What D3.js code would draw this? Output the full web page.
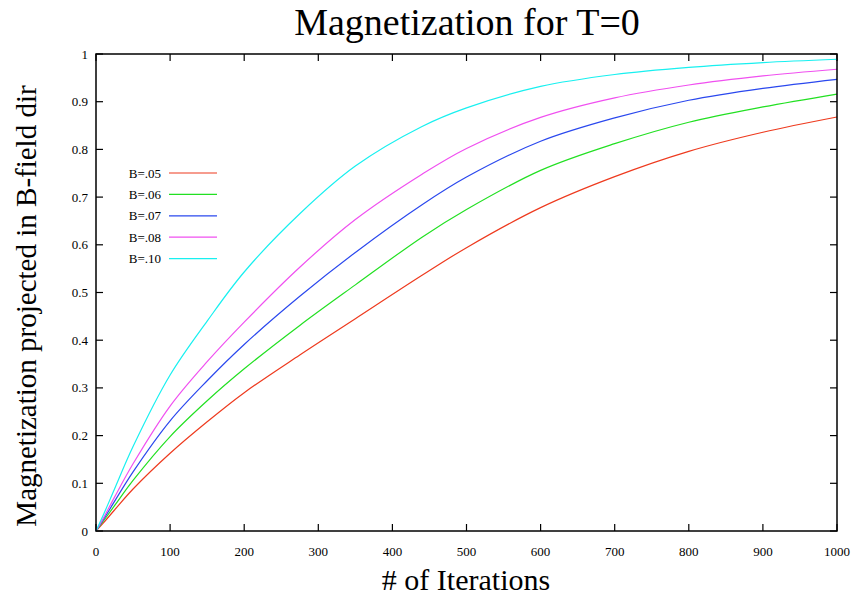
<!DOCTYPE html>
<html lang="en">
<head>
    <meta charset="UTF-8">
    <title>Magnetization for T=0</title>
    <script src="https://cdnjs.cloudflare.com/ajax/libs/d3/7.8.5/d3.min.js"></script>
    <style>
        body {
            margin: 0;
            padding: 0;
            background-color: white;
        }
        svg text {
            font-family: "Liberation Serif", "Times New Roman", serif;
            fill: black;
        }
        .frame {
            fill: none;
            stroke: black;
            stroke-width: 1.5px;
        }
        .tick-mark {
            stroke: black;
            stroke-width: 1.2px;
        }
        .curve {
            fill: none;
            stroke-width: 1.2px;
        }
    </style>
</head>
<body>
    <div id="chart"></div>
    <script>
        const iterations = [0, 10, 25, 50, 100, 150, 200, 275, 350, 440, 500, 600, 700, 800, 900, 1000];

        const b05 = [0, 0.017, 0.044, 0.088, 0.163, 0.229, 0.290, 0.369, 0.445, 0.536, 0.594, 0.678, 0.743, 0.796, 0.836, 0.868];
        const b06 = [0, 0.021, 0.053, 0.106, 0.198, 0.273, 0.340, 0.431, 0.516, 0.616, 0.674, 0.756, 0.812, 0.857, 0.889, 0.916];
        const b07 = [0, 0.024, 0.062, 0.124, 0.231, 0.315, 0.391, 0.492, 0.584, 0.684, 0.742, 0.817, 0.866, 0.903, 0.928, 0.947];
        const b08 = [0, 0.027, 0.071, 0.141, 0.262, 0.355, 0.438, 0.553, 0.653, 0.748, 0.802, 0.867, 0.908, 0.935, 0.954, 0.968];
        const b10 = [0, 0.034, 0.088, 0.177, 0.327, 0.440, 0.543, 0.665, 0.765, 0.848, 0.887, 0.932, 0.957, 0.972, 0.982, 0.989];

        const seriesNames = ["B=.05", "B=.06", "B=.07", "B=.08", "B=.10"];
        const seriesValues = [b05, b06, b07, b08, b10];
        const seriesColors = ["#ee3a1e", "#22e022", "#2a48ee", "#f050f0", "#18f0f0"];

        const xTicks = [0, 100, 200, 300, 400, 500, 600, 700, 800, 900, 1000];
        const yTicks = [0, 0.1, 0.2, 0.3, 0.4, 0.5, 0.6, 0.7, 0.8, 0.9, 1];

        const width = 853, height = 601;
        const margin = { top: 54, right: 16, bottom: 70, left: 96 };
        const tickLen = 7;
        const serif = "'Liberation Serif', 'Times New Roman', serif";

        const svg = d3.select("#chart").append("svg")
            .attr("width", width)
            .attr("height", height);

        const x = d3.scaleLinear().domain([0, 1000]).range([margin.left, width - margin.right]);
        const y = d3.scaleLinear().domain([0, 1]).range([height - margin.bottom, margin.top]);

        // ticks (mirrored on all four sides, pointing inward)
        const ticks = svg.append("g");
        xTicks.forEach(t => {
            ticks.append("line").attr("class", "tick-mark")
                .attr("x1", x(t)).attr("x2", x(t))
                .attr("y1", y(0)).attr("y2", y(0) - tickLen);
            ticks.append("line").attr("class", "tick-mark")
                .attr("x1", x(t)).attr("x2", x(t))
                .attr("y1", y(1)).attr("y2", y(1) + tickLen);
            ticks.append("text")
                .attr("x", x(t))
                .attr("y", y(0) + 25)
                .attr("text-anchor", "middle")
                .attr("font-family", serif)
                .style("font-size", "13px")
                .text(t);
        });
        yTicks.forEach(v => {
            ticks.append("line").attr("class", "tick-mark")
                .attr("x1", x(0)).attr("x2", x(0) + tickLen)
                .attr("y1", y(v)).attr("y2", y(v));
            ticks.append("line").attr("class", "tick-mark")
                .attr("x1", x(1000)).attr("x2", x(1000) - tickLen)
                .attr("y1", y(v)).attr("y2", y(v));
            ticks.append("text")
                .attr("x", x(0) - 8)
                .attr("y", y(v))
                .attr("dy", "0.35em")
                .attr("text-anchor", "end")
                .attr("font-family", serif)
                .style("font-size", "13px")
                .text(v);
        });

        // curves
        const line = d3.line()
            .x(d => x(d[0]))
            .y(d => y(d[1]))
            .curve(d3.curveCatmullRom.alpha(0.5));

        seriesValues.forEach((vals, i) => {
            svg.append("path")
                .attr("class", "curve")
                .attr("stroke", seriesColors[i])
                .attr("d", line(iterations.map((t, j) => [t, vals[j]])));
        });

        svg.append("rect").attr("class", "frame")
            .attr("x", x(0)).attr("y", y(1))
            .attr("width", x(1000) - x(0))
            .attr("height", y(0) - y(1));

        // legend
        const legend = svg.append("g");
        seriesNames.forEach((name, i) => {
            const ly = 173 + i * 21.4;
            legend.append("text")
                .attr("x", 161)
                .attr("y", ly)
                .attr("dy", "0.35em")
                .attr("text-anchor", "end")
                .attr("font-family", serif)
                .style("font-size", "13px")
                .text(name);
            legend.append("line")
                .attr("x1", 169).attr("x2", 217)
                .attr("y1", ly).attr("y2", ly)
                .attr("stroke", seriesColors[i])
                .attr("stroke-width", 1.2);
        });

        // titles
        svg.append("text")
            .attr("x", 467)
            .attr("y", 35)
            .attr("text-anchor", "middle")
            .attr("font-family", serif)
            .style("font-size", "38px")
            .text("Magnetization for T=0");

        svg.append("text")
            .attr("x", 466)
            .attr("y", 590)
            .attr("text-anchor", "middle")
            .attr("font-family", serif)
            .style("font-size", "30px")
            .text("# of Iterations");

        svg.append("text")
            .attr("transform", "translate(36,306) rotate(-90)")
            .attr("text-anchor", "middle")
            .attr("font-family", serif)
            .style("font-size", "29px")
            .text("Magnetization projected in B-field dir");
    </script>
</body>
</html>
